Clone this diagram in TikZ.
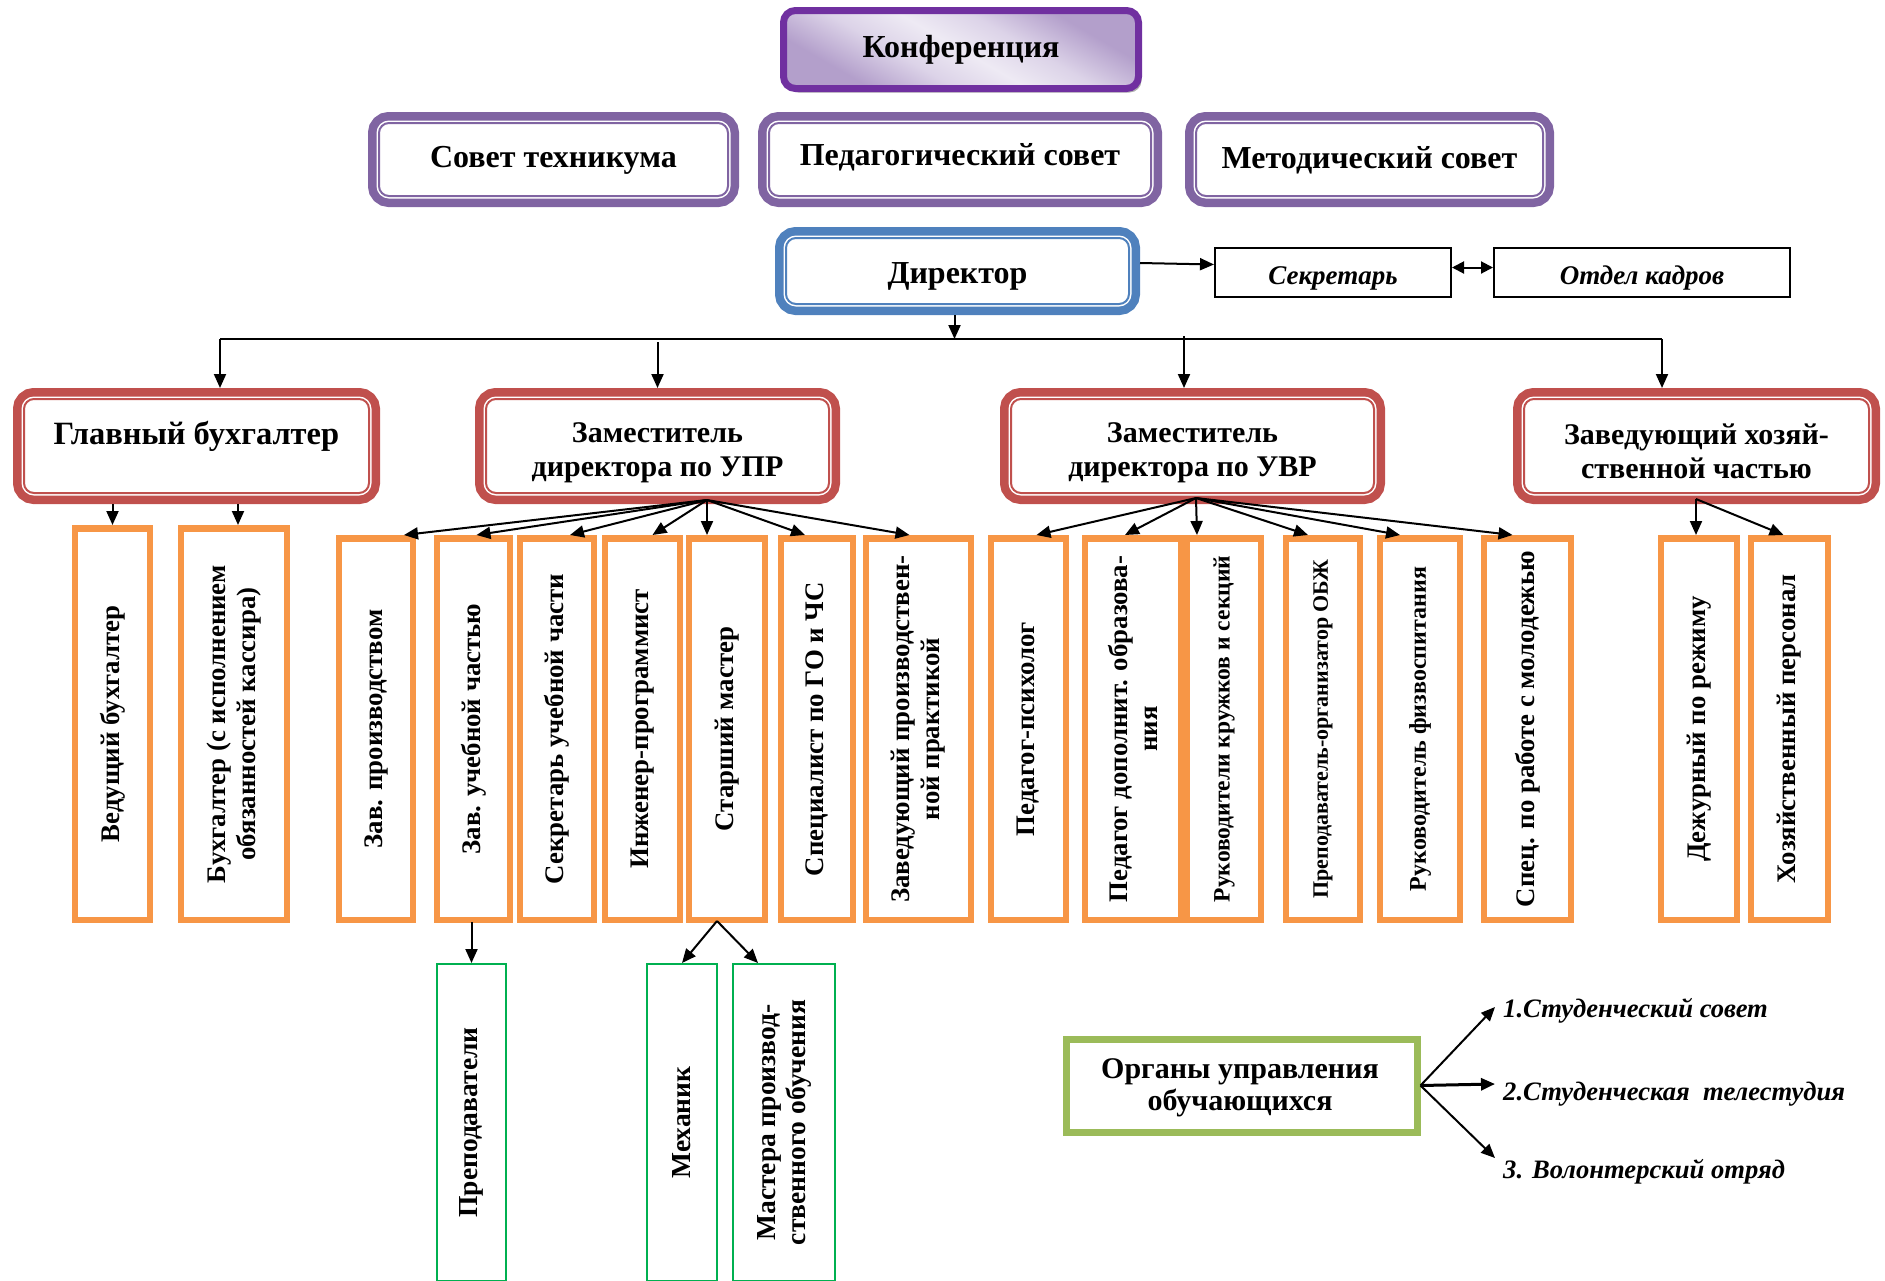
\documentclass[tikz,border=0pt]{standalone}
\usepackage{fontspec}
\setmainfont{Liberation Serif}
\usetikzlibrary{arrows.meta,shadows,calc}
\definecolor{konfc}{HTML}{7030A0}
\definecolor{konfA}{HTML}{EEEAF4}
\definecolor{konfB}{HTML}{B39FCB}
\definecolor{konfM}{HTML}{DCD3E8}
\definecolor{sovc}{HTML}{8064A2}
\definecolor{dirc}{HTML}{4F81BD}
\definecolor{redc}{HTML}{C0504D}
\definecolor{orc}{HTML}{F79646}
\definecolor{grc}{HTML}{00B050}
\definecolor{olc}{HTML}{9BBB59}
\pgfdeclarehorizontalshading{konfsh}{100bp}{color(0bp)=(konfB); color(28bp)=(konfB); color(40bp)=(konfM); color(50bp)=(konfA); color(60bp)=(konfM); color(72bp)=(konfB); color(100bp)=(konfB)}
\begin{document}
\begin{tikzpicture}[x=1pt,y=-1pt,
  dframe/.style={draw=#1, line width=2pt, fill=white, rounded corners=10pt, outer sep=11pt,
    preaction={draw=#1, line width=22pt}, preaction={draw=white, line width=5pt}, inner sep=0pt},
  ttl/.style={font=\bfseries\fontsize{32}{36}\selectfont, align=center, inner sep=0pt},
  ttl2/.style={font=\bfseries\fontsize{30}{34}\selectfont, align=center, inner sep=0pt},
  konfst/.style={draw=konfc, line width=7pt, rounded corners=12pt, shading=konfsh, shading angle=60,
    drop shadow={shadow xshift=3pt, shadow yshift=-4pt, fill=black!45, opacity=.7},
    font=\bfseries\fontsize{32}{36}\selectfont, inner sep=0pt, outer sep=3.5pt},
  smallbox/.style={draw, line width=2pt, fill=white, inner sep=0pt},
  stxt/.style={inner sep=0pt, font=\bfseries\itshape\fontsize{27}{30}\selectfont},
  obox/.style={draw=orc, line width=6.5pt, fill=white, inner sep=0pt},
  gbox/.style={draw=grc, line width=2pt, fill=white, inner sep=0pt},
  orgbox/.style={draw=olc, line width=7pt, fill=white, inner sep=0pt},
  orgtxt/.style={align=center, inner sep=0pt, font=\bfseries\fontsize{30}{32}\selectfont},
  vt/.style={rotate=90, font=\bfseries\fontsize{26.8}{30}\selectfont, align=center, inner sep=0pt},
  item/.style={anchor=west, inner sep=0pt, font=\bfseries\itshape\fontsize{26.6}{30}\selectfont},
  arr/.style={-{Triangle[length=14pt,width=12pt]}, line width=2pt},
  darr/.style={{Triangle[length=12pt,width=12pt]}-{Triangle[length=12pt,width=12pt]}, line width=2pt},
  ln/.style={line width=2pt}
]
\useasboundingbox (0,0) rectangle (1885,1280);

% top level
\node[konfst, minimum width=355pt, minimum height=78pt] (konf) at (961,49.5) {Конференция};
\node[dframe=sovc, minimum width=349pt, minimum height=73pt] (st) at (553.5,159.5) {};
\node[dframe=sovc, minimum width=382pt, minimum height=73pt] (ps) at (960,159.5) {};
\node[dframe=sovc, minimum width=347pt, minimum height=73pt] (ms) at (1369.5,159.5) {};
\node[ttl] (stt) at (553.5,160) {Совет техникума};
\node[ttl] (pst) at (960,157) {Педагогический совет};
\node[ttl] (mst) at (1369.5,160) {Методический совет};

\node[dframe=dirc, minimum width=343pt, minimum height=66pt] (dir) at (957.5,271) {};
\node[ttl] (dirt) at (957.5,276) {Директор};
\node[smallbox, minimum width=236pt, minimum height=49pt] (sec) at (1333,272.5) {};
\node[smallbox, minimum width=296pt, minimum height=49pt] (kad) at (1642,272.5) {};
\node[stxt] (sect) at (1333,278) {Секретарь};
\node[stxt] (kadt) at (1642,278) {Отдел кадров};

\draw[arr] ([yshift=8pt]dir.east) -- ([yshift=8pt]sec.west);
\draw[darr] ([yshift=5pt]sec.east) -- ([yshift=5pt]kad.west);

% level 3
\node[dframe=redc, minimum width=345pt, minimum height=94pt] (gb) at (196.5,446) {};
\node[dframe=redc, minimum width=343pt, minimum height=94pt] (upr) at (657.5,446) {};
\node[dframe=redc, minimum width=363pt, minimum height=94pt] (uvr) at (1192.5,446) {};
\node[dframe=redc, minimum width=345pt, minimum height=94pt] (zx) at (1696.5,446) {};
\node[ttl, font=\bfseries\fontsize{32.5}{36}\selectfont] (gbt) at (196.5,436) {Главный бухгалтер};
\node[ttl2] (uprt) at (657.5,453) {Заместитель\\директора по УПР};
\node[ttl2] (uvrt) at (1192.5,453) {Заместитель\\директора по УВР};
\node[ttl2] (zxt) at (1696.5,451) {Заведующий хозяй-\\ственной частью};

% distribution line
\coordinate (hl) at (220,339);
\coordinate (hr) at (1662,339);
\coordinate (hu) at (1184,339);
\draw[ln] (hl) -- (hr);
\draw[arr] ([xshift=-3pt]dir.south) -- ([xshift=-3pt]dir.south |- hl);
\draw[arr] (hl) -- (hl |- gb.north);
\draw[arr] ([yshift=-3pt]upr.north |- hl) -- (upr.north);
\draw[arr] ([yshift=3pt]hu) -- (hu |- uvr.north);
\draw[arr] (hr) -- (hr |- zx.north);

% level 4 : accountant
\node[obox, minimum width=75pt, minimum height=391.5pt] (vb) at (112.5,724) {};
\node[obox, minimum width=106pt, minimum height=391.5pt] (bx) at (234,724) {};
\node[vt] (vbt) at (vb) {Ведущий бухгалтер};
\node[vt] (bxt) at (bx) {Бухгалтер (с исполнением\\обязанностей кассира)};
\draw[arr] (gb.south -| vb.north) -- (vb.north);
\draw[arr] ([xshift=4pt]gb.south -| bx.north) -- ([xshift=4pt]bx.north);

% level 4 : UPR
\node[obox, minimum width=74pt, minimum height=381.5pt] (zp) at (376,729) {};
\node[obox, minimum width=73pt, minimum height=381.5pt] (zu) at (473.5,729) {};
\node[obox, minimum width=74pt, minimum height=381.5pt] (su) at (557,729) {};
\node[obox, minimum width=75pt, minimum height=381.5pt] (ing) at (642.5,729) {};
\node[obox, minimum width=76pt, minimum height=381.5pt] (smr) at (727,729) {};
\node[obox, minimum width=72pt, minimum height=381.5pt] (go) at (817,729) {};
\node[obox, minimum width=105pt, minimum height=381.5pt] (zpp) at (918.5,729) {};
\node[vt] (zpt) at (zp) {Зав. производством};
\node[vt] (zut) at (zu) {Зав. учебной частью};
\node[vt] (sut) at (su) {Секретарь учебной части};
\node[vt] (ingt) at (ing) {Инженер-программист};
\node[vt] (smrt) at (smr) {Старший мастер};
\node[vt] (got) at (go) {Специалист по ГО и ЧС};
\node[vt] (zppt) at (zpp) {Заведующий производствен-\\ной практикой};
\coordinate (h1) at (707,500);
\draw[arr] (h1) -- ([xshift=28pt]zp.north);
\draw[arr] (h1) -- ([xshift=3pt]zu.north);
\draw[arr] (h1) -- ([xshift=13pt]su.north);
\draw[arr] (h1) -- ([xshift=10pt]ing.north);
\draw[arr] (h1) -- ([xshift=-20pt]smr.north);
\draw[arr] (h1) -- ([xshift=-12pt]go.north);
\draw[arr] (h1) -- ([xshift=-9pt]zpp.north);

% level 4 : UVR
\node[obox, minimum width=75pt, minimum height=381.5pt] (pp) at (1028.5,729) {};
\node[obox, minimum width=96pt, minimum height=381.5pt] (pd) at (1133,729) {};
\node[obox, minimum width=74pt, minimum height=381.5pt] (rk) at (1224,729) {};
\node[obox, minimum width=74pt, minimum height=381.5pt] (obz) at (1323,729) {};
\node[obox, minimum width=80pt, minimum height=381.5pt] (fv) at (1420,729) {};
\node[obox, minimum width=87pt, minimum height=381.5pt] (ml) at (1527.5,729) {};
\node[vt] (ppt) at (pp) {Педагог-психолог};
\node[vt] (pdt) at (pd) {Педагог дополнит. образова-\\ния};
\node[vt, font=\bfseries\fontsize{23.5}{28}\selectfont] (rkt) at (rk) {Руководители кружков и секций};
\node[vt, font=\bfseries\fontsize{22}{26}\selectfont] (obzt) at (obz) {Преподаватель-организатор ОБЖ};
\node[vt, font=\bfseries\fontsize{24}{28}\selectfont] (fvt) at (fv) {Руководитель физвоспитания};
\node[vt] (mlt) at (ml) {Спец. по работе с молодежью};
\coordinate (h2) at (1196,498);
\draw[arr] (h2) -- ([xshift=8pt]pp.north);
\draw[arr] (h2) -- ([xshift=-8pt]pd.north);
\draw[arr] (h2) -- ([xshift=-27pt]rk.north);
\draw[arr] (h2) -- ([xshift=-15pt]obz.north);
\draw[arr] (h2) -- ([xshift=-20pt]fv.north);
\draw[arr] (h2) -- ([xshift=-15pt]ml.north);

% level 4 : household
\node[obox, minimum width=76pt, minimum height=381.5pt] (dj) at (1699,729) {};
\node[obox, minimum width=77pt, minimum height=381.5pt] (hp) at (1789.5,729) {};
\node[vt] (djt) at (dj) {Дежурный по режиму};
\node[vt] (hpt) at (hp) {Хозяйственный персонал};
\coordinate (h3) at (1696,499);
\draw[arr] (h3) -- ([xshift=-3pt]dj.north);
\draw[arr] (h3) -- ([xshift=-6pt]hp.north);

% level 5
\node[gbox, minimum width=69pt, minimum height=317pt] (prep) at (471.5,1122.5) {};
\node[gbox, minimum width=70pt, minimum height=317pt] (mech) at (682,1122.5) {};
\node[gbox, minimum width=102pt, minimum height=317pt] (mast) at (784,1122.5) {};
\node[vt, font=\bfseries\fontsize{27.5}{30}\selectfont] (prept) at (prep) {Преподаватели};
\node[vt, font=\bfseries\fontsize{27.5}{30}\selectfont] (mecht) at (mech) {Механик};
\node[vt, font=\bfseries\fontsize{27.5}{30}\selectfont] (mastt) at (mast) {Мастера производ-\\ственного обучения};
\draw[arr] ([xshift=-3pt]zu.south) -- (zu.south -| prep.north) -- (prep.north);
\coordinate (h4) at (717,921);
\draw[arr] (h4) -- (mech.north);
\draw[arr] (h4) -- ([xshift=-26pt]mast.north);

% student bodies
\node[orgbox, minimum width=351pt, minimum height=93pt] (org) at (1241.5,1085.5) {};
\node[orgtxt] (orgt) at (1240,1088) {Органы управления\\обучающихся};
\node[item] (i1) at (1503,1011) {1.Студенческий совет};
\node[item] (i2) at (1503,1094) {2.Студенческая\ \ телестудия};
\node[item] (i3) at (1503,1172) {3. Волонтерский отряд};
\draw[arr] (org.east) -- ([xshift=-8pt,yshift=4pt]i1.west);
\draw[arr, line width=3pt] (org.east) -- ([xshift=-8pt,yshift=10pt]i2.west);
\draw[arr] (org.east) -- ([xshift=-8pt,yshift=14pt]i3.west);
\end{tikzpicture}
\end{document}
